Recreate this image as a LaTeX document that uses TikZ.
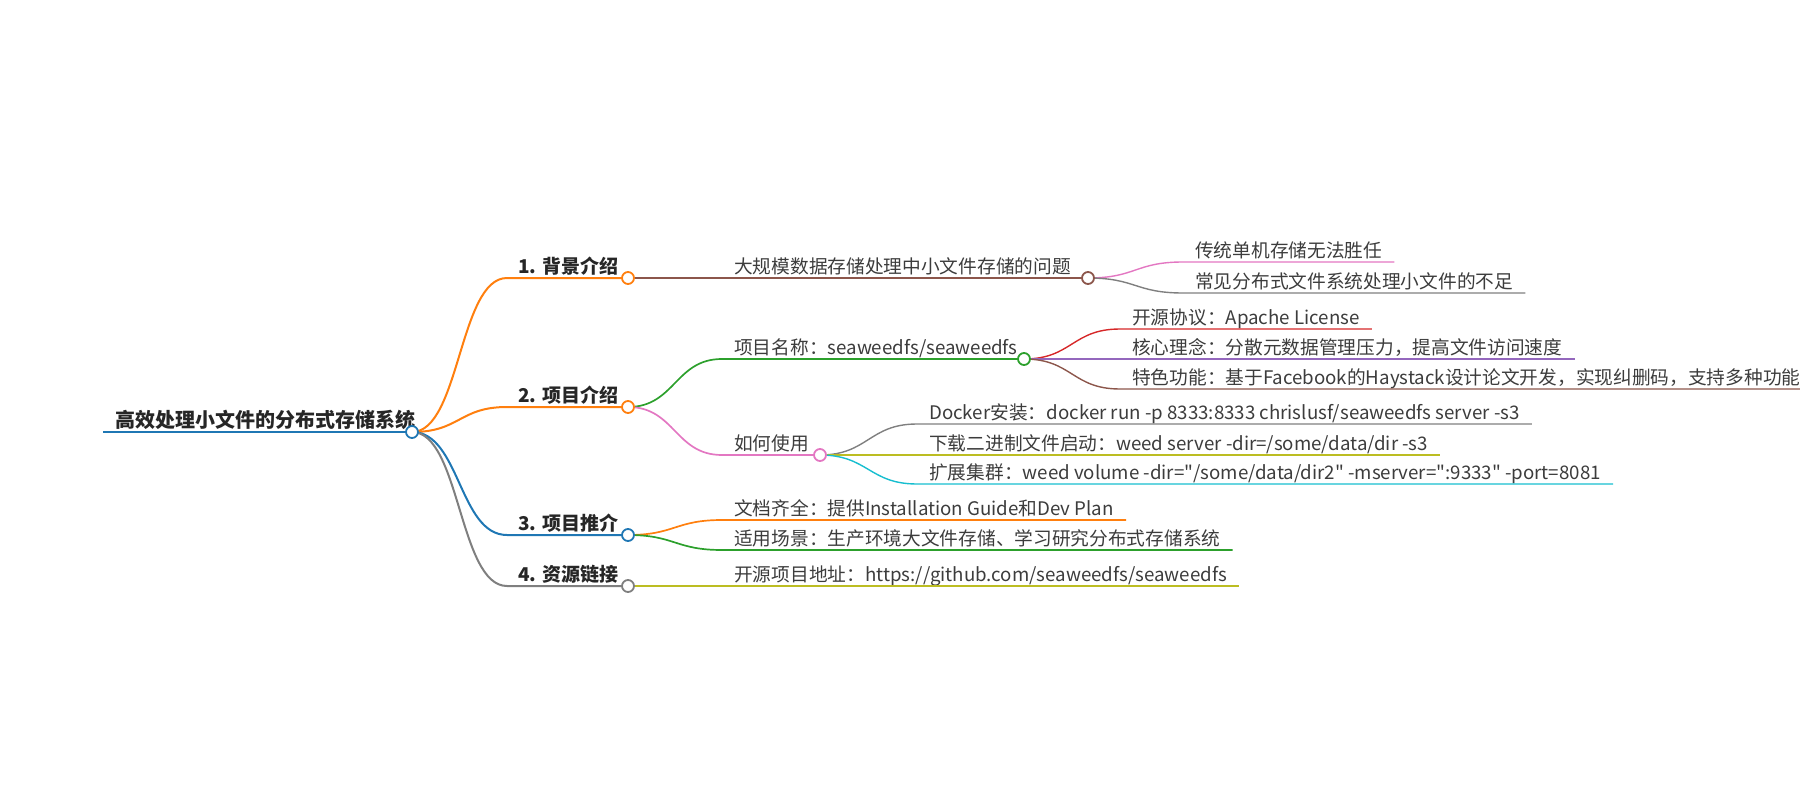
\documentclass[tikz,border=0pt]{standalone}
\usepackage{fontspec}
\setmainfont{Noto Sans CJK SC}[Ligatures=TeXOff]
\usetikzlibrary{calc}
\usetikzlibrary{positioning}
\definecolor{mblue}{RGB}{31, 119, 180}
\definecolor{morange}{RGB}{255, 127, 14}
\definecolor{mgreen}{RGB}{44, 160, 44}
\definecolor{mred}{RGB}{214, 39, 40}
\definecolor{mpurple}{RGB}{148, 103, 189}
\definecolor{mbrown}{RGB}{140, 86, 75}
\definecolor{mpink}{RGB}{227, 119, 194}
\definecolor{mgray}{RGB}{127, 127, 127}
\definecolor{molive}{RGB}{188, 189, 34}
\definecolor{mcyan}{RGB}{23, 190, 207}
\definecolor{inkgray}{RGB}{60, 60, 60}
\tikzset{
  roottext/.style={font=\fontsize{20}{24}\selectfont\bfseries, text=black!85, inner xsep=12pt, inner ysep=0pt, anchor=base west, yshift=5pt},
  headtext/.style={font=\fontsize{19}{23}\selectfont\bfseries, text=black!85, inner xsep=11pt, inner ysep=0pt, anchor=base west, yshift=5pt},
  itemtext/.style={font=\fontsize{18.7}{23}\selectfont, text=inkgray, inner xsep=12pt, inner ysep=0pt, anchor=base west, yshift=5pt},
  lk0/.style={line width=2.4pt},
  lk1/.style={line width=2pt},
  lk2/.style={line width=1.7pt},
  lk3/.style={line width=1.4pt},
  knob/.style={line width=1.8pt, fill=white}
}
\begin{document}
\begin{tikzpicture}[x=1pt, y=-1pt]
\useasboundingbox (0,0) rectangle (1800,800);
\clip (0,0) rectangle (1800,800);
% root
\coordinate (r0) at (103,432);
\coordinate (r)  at (412,432);
\node[roottext] (root) at (r0) {高效处理小文件的分布式存储系统};
% first level
\coordinate (a1) at (507,278);  \coordinate (A1) at (628,278);
\coordinate (a2) at (507,407);  \coordinate (A2) at (628,407);
\coordinate (a3) at (507,535);  \coordinate (A3) at (628,535);
\coordinate (a4) at (507,586);  \coordinate (A4) at (628,586);
\node[headtext] (h1) at (a1) {1. 背景介绍};
\node[headtext] (h2) at (a2) {2. 项目介绍};
\node[headtext] (h3) at (a3) {3. 项目推介};
\node[headtext] (h4) at (a4) {4. 资源链接};
% second level
\coordinate (b1) at (722,278);  \coordinate (B1) at (1088,278);
\coordinate (b2) at (722,359);  \coordinate (B2) at (1024,359);
\coordinate (b3) at (722,455);  \coordinate (B3) at (820,455);
\coordinate (b4) at (722,520);
\coordinate (b5) at (722,550);
\coordinate (b6) at (722,586);
\node[itemtext] (m1) at (b1) {大规模数据存储处理中小文件存储的问题};
\node[itemtext] (m2) at (b2) {项目名称：seaweedfs/seaweedfs};
\node[itemtext] (m3) at (b3) {如何使用};
\node[itemtext] (m4) at (b4) {文档齐全：提供Installation Guide和Dev Plan};
\node[itemtext] (m5) at (b5) {适用场景：生产环境大文件存储、学习研究分布式存储系统};
\node[itemtext] (m6) at (b6) {开源项目地址：https://github.com/seaweedfs/seaweedfs};
% third level
\coordinate (c1) at (1183,262);
\coordinate (c2) at (1183,293);
\coordinate (c3) at (1120,329);
\coordinate (c4) at (1120,359);
\coordinate (c5) at (1120,389);
\coordinate (c6) at (917,424);
\coordinate (c7) at (917,455);
\coordinate (c8) at (917,484);
\node[itemtext] (l1) at (c1) {传统单机存储无法胜任};
\node[itemtext] (l2) at (c2) {常见分布式文件系统处理小文件的不足};
\node[itemtext] (l3) at (c3) {开源协议：Apache License};
\node[itemtext] (l4) at (c4) {核心理念：分散元数据管理压力，提高文件访问速度};
\node[itemtext] (l5) at (c5) {特色功能：基于Facebook的Haystack设计论文开发，实现纠删码，支持多种功能};
\node[itemtext] (l6) at (c6) {Docker安装：docker run -p 8333:8333 chrislusf/seaweedfs server -s3};
\node[itemtext] (l7) at (c7) {下载二进制文件启动：weed server -dir=/some/data/dir -s3};
\node[itemtext] (l8) at (c8) {扩展集群：weed volume -dir="/some/data/dir2" -mserver=":9333" -port=8081};
% links
\draw[lk0, mblue]   (r0) -- (r);
\draw[lk1, morange] (r) .. controls +(48,0) and +(-48,0) .. (a1) -- (A1);
\draw[lk1, morange] (r) .. controls +(48,0) and +(-48,0) .. (a2) -- (A2);
\draw[lk1, mblue]   (r) .. controls +(48,0) and +(-48,0) .. (a3) -- (A3);
\draw[lk1, mgray]   (r) .. controls +(48,0) and +(-48,0) .. (a4) -- (A4);
\draw[lk2, mbrown]  (A1) -- (b1) -- (B1);
\draw[lk2, mgreen]  (A2) .. controls +(47,0) and +(-47,0) .. (b2) -- (B2);
\draw[lk2, mpink]   (A2) .. controls +(47,0) and +(-47,0) .. (b3) -- (B3);
\draw[lk2, morange] (A3) .. controls +(47,0) and +(-47,0) .. (b4) -- (b4 -| m4.east);
\draw[lk2, mgreen]  (A3) .. controls +(47,0) and +(-47,0) .. (b5) -- (b5 -| m5.east);
\draw[lk2, molive]  (A4) -- (b6) -- (b6 -| m6.east);
\draw[lk3, mpink]   (B1) .. controls +(48,0) and +(-48,0) .. (c1) -- (c1 -| l1.east);
\draw[lk3, mgray]   (B1) .. controls +(48,0) and +(-48,0) .. (c2) -- (c2 -| l2.east);
\draw[lk3, mred]    (B2) .. controls +(48,0) and +(-48,0) .. (c3) -- (c3 -| l3.east);
\draw[lk3, mpurple] (B2) .. controls +(48,0) and +(-48,0) .. (c4) -- (c4 -| l4.east);
\draw[lk3, mbrown]  (B2) .. controls +(48,0) and +(-48,0) .. (c5) -- (c5 -| l5.east);
\draw[lk3, mgray]   (B3) .. controls +(48,0) and +(-48,0) .. (c6) -- (c6 -| l6.east);
\draw[lk3, molive]  (B3) .. controls +(48,0) and +(-48,0) .. (c7) -- (c7 -| l7.east);
\draw[lk3, mcyan]   (B3) .. controls +(48,0) and +(-48,0) .. (c8) -- (c8 -| l8.east);
% knobs
\filldraw[knob, draw=mblue]   (r)  circle[radius=6pt];
\filldraw[knob, draw=morange] (A1) circle[radius=6pt];
\filldraw[knob, draw=morange] (A2) circle[radius=6pt];
\filldraw[knob, draw=mblue]   (A3) circle[radius=6pt];
\filldraw[knob, draw=mgray]   (A4) circle[radius=6pt];
\filldraw[knob, draw=mbrown]  (B1) circle[radius=6pt];
\filldraw[knob, draw=mgreen]  (B2) circle[radius=6pt];
\filldraw[knob, draw=mpink]   (B3) circle[radius=6pt];
\end{tikzpicture}
\end{document}
